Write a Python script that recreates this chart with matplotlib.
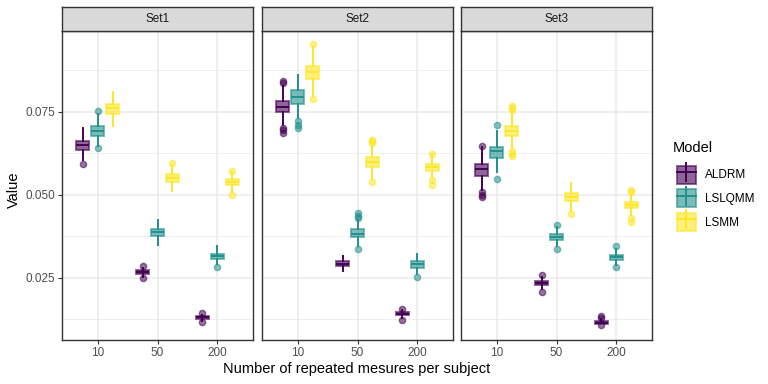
import matplotlib
matplotlib.use('Agg')
from matplotlib import pyplot as plt
from matplotlib.patches import Patch
from matplotlib.lines import Line2D

plt.rcParams['font.family'] = ['Liberation Sans', 'DejaVu Sans']

sets = ['Set1', 'Set2', 'Set3']
sizes = ['10', '50', '200']
models = ['ALDRM', 'LSLQMM', 'LSMM']
colors = ['#440154', '#21908C', '#FDE725']

# (whislo, q1, med, q3, whishi) per set, per size
aldrm_stats = [
    [(0.0606, 0.0636, 0.0651, 0.0664, 0.0703), (0.0254, 0.0261, 0.0267, 0.0273, 0.0281), (0.0121, 0.0127, 0.0131, 0.0134, 0.0139)],
    [(0.0712, 0.0749, 0.0765, 0.0782, 0.0829), (0.0270, 0.0285, 0.0293, 0.0300, 0.0317), (0.0130, 0.0139, 0.0142, 0.0146, 0.0153)],
    [(0.0516, 0.0558, 0.0578, 0.0594, 0.0643), (0.0216, 0.0228, 0.0234, 0.0240, 0.0252), (0.0110, 0.0112, 0.0115, 0.0119, 0.0125)],
]
aldrm_out = [
    [[0.0593], [0.0287, 0.0249], [0.0145, 0.0118]],
    [[0.0842, 0.0837, 0.0702, 0.0695, 0.0687], [], [0.0157, 0.0124]],
    [[0.0649, 0.0508, 0.0501, 0.0493], [0.0258, 0.0208], [0.0136, 0.0130, 0.0107]],
]
lslqmm_stats = [
    [(0.0649, 0.0679, 0.0693, 0.0707, 0.0745), (0.0350, 0.0377, 0.0387, 0.0398, 0.0426), (0.0293, 0.0306, 0.0315, 0.0323, 0.0345)],
    [(0.0732, 0.0775, 0.0795, 0.0815, 0.0862), (0.0347, 0.0372, 0.0383, 0.0396, 0.0426), (0.0263, 0.0281, 0.0291, 0.0300, 0.0323)],
    [(0.0570, 0.0610, 0.0631, 0.0646, 0.0694), (0.0347, 0.0363, 0.0374, 0.0383, 0.0402), (0.0290, 0.0303, 0.0312, 0.0320, 0.0338)],
]
lslqmm_out = [
    [[0.0754, 0.0640], [], [0.0282]],
    [[0.0722, 0.0712, 0.0702], [0.0446, 0.0438, 0.0431, 0.0337], [0.0253]],
    [[0.0710, 0.0549], [0.0409, 0.0337], [0.0345, 0.0282]],
]
lsmm_stats = [
    [(0.0707, 0.0744, 0.0761, 0.0774, 0.0811), (0.0511, 0.0540, 0.0551, 0.0564, 0.0591), (0.0510, 0.0530, 0.0539, 0.0548, 0.0568)],
    [(0.0799, 0.0849, 0.0870, 0.0890, 0.0947), (0.0549, 0.0584, 0.0599, 0.0614, 0.0649), (0.0555, 0.0573, 0.0583, 0.0593, 0.0619)],
    [(0.0640, 0.0677, 0.0692, 0.0707, 0.0748), (0.0453, 0.0481, 0.0494, 0.0506, 0.0536), (0.0441, 0.0461, 0.0470, 0.0480, 0.0501)],
]
lsmm_out = [
    [[], [0.0596], [0.0572, 0.0500]],
    [[0.0955, 0.0790], [0.0667, 0.0662, 0.0657, 0.0538], [0.0624, 0.0546, 0.0531]],
    [[0.0767, 0.0762, 0.0757, 0.0631, 0.0624, 0.0616], [0.0443], [0.0516, 0.0508, 0.0431, 0.0418]],
]

all_stats = [aldrm_stats, lslqmm_stats, lsmm_stats]
all_out = [aldrm_out, lslqmm_out, lsmm_out]

W, H = 768, 384
fig = plt.figure(figsize=(7.68, 3.84), dpi=100)

panel_left = [62, 262, 461]
panel_w = 191
top_px, bot_px, strip_top = 31, 340, 7
grid_c = '#EBEBEB'
frame_c = '#333333'
offsets = [-0.25, 0.0, 0.25]

for s, name in enumerate(sets):
    ax = fig.add_axes([panel_left[s] / W, 1 - bot_px / H, panel_w / W, (bot_px - top_px) / H])
    for m in range(3):
        c = colors[m]
        bstats = []
        pos = []
        for k in range(3):
            lo, q1, med, q3, hi = all_stats[m][s][k]
            bstats.append({'whislo': lo, 'q1': q1, 'med': med, 'q3': q3, 'whishi': hi,
                           'fliers': all_out[m][s][k]})
            pos.append(k + 1 + offsets[m])
        ax.bxp(bstats, positions=pos, widths=0.22, patch_artist=True, showcaps=False,
               manage_ticks=False,
               boxprops=dict(facecolor=c, alpha=0.6, edgecolor=c, linewidth=1.4),
               medianprops=dict(color=c, linewidth=1.4),
               whiskerprops=dict(color=c, linewidth=1.4),
               flierprops=dict(marker='o', markerfacecolor=c, markeredgecolor=c,
                               markersize=4.5, alpha=0.55))

    ax.set_xlim(0.4, 3.6)
    ax.set_ylim(0.0063, 0.0994)
    ax.set_yticks([0.025, 0.050, 0.075])
    ax.set_yticks([0.0125, 0.0375, 0.0625, 0.0875], minor=True)
    ax.set_xticks([1, 2, 3])
    ax.set_xticklabels(sizes)
    ax.grid(True, which='major', color=grid_c, lw=1.1)
    ax.grid(True, which='minor', axis='y', color=grid_c, lw=0.55)
    ax.set_axisbelow(True)
    ax.tick_params(axis='both', which='major', length=3, width=0.8, color=frame_c,
                   labelsize=8.5, labelcolor='#4D4D4D', pad=2)
    ax.tick_params(axis='y', which='minor', length=0)
    if s == 0:
        ax.set_yticklabels(['0.025', '0.050', '0.075'])
    else:
        ax.set_yticklabels([])
        ax.tick_params(axis='y', which='major', length=0)
    for sp in ax.spines.values():
        sp.set_color(frame_c)
        sp.set_linewidth(1.0)

    sax = fig.add_axes([panel_left[s] / W, 1 - top_px / H, panel_w / W, (top_px - strip_top) / H])
    sax.set_facecolor('#D9D9D9')
    sax.set_xticks([])
    sax.set_yticks([])
    for sp in sax.spines.values():
        sp.set_color(frame_c)
        sp.set_linewidth(1.0)
    sax.text(0.5, 0.5, name, ha='center', va='center', fontsize=8.5, color='#1A1A1A',
             transform=sax.transAxes)

fig.text(14 / W, 1 - 190 / H, 'Value', rotation=90, ha='center', va='center', fontsize=10.5)
fig.text(357 / W, 1 - 369 / H, 'Number of repeated mesures per subject', ha='center',
         va='center', fontsize=10.5)

fig.text(673 / W, 1 - 148 / H, 'Model', ha='left', va='center', fontsize=10.5)
handles = []
for m in range(3):
    c = colors[m]
    handles.append((Line2D([], [], color=c, marker='|', markersize=15, lw=0, mew=1.4),
                    Patch(facecolor=c, alpha=0.6, edgecolor=c, linewidth=1.4),
                    Line2D([], [], color=c, lw=1.4)))
fig.legend(handles, models, loc='upper left', bbox_to_anchor=(666 / W, 1 - 155 / H),
           frameon=False, fontsize=8.5, handlelength=1.6, handleheight=2.0,
           labelspacing=0.45, handletextpad=0.8)

fig.savefig('out.png', dpi=100)
